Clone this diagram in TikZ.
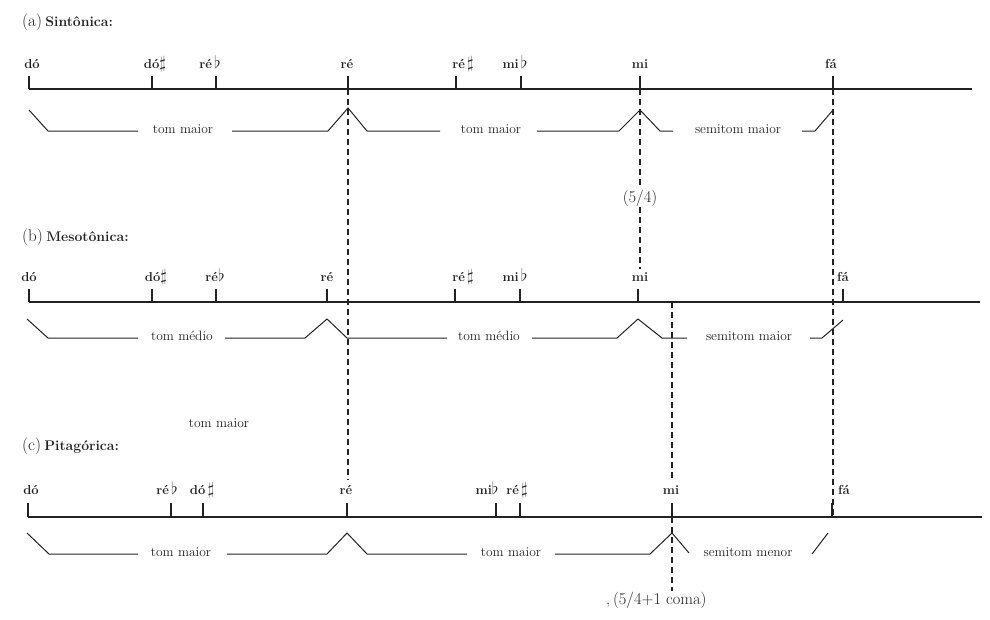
\documentclass[tikz,border=0pt]{standalone}
\usepackage{tikz}
\usetikzlibrary{positioning,calc}
\definecolor{ink}{HTML}{222222}
\newcommand{\sus}{{\fontsize{16}{16}\selectfont$\sharp$}}
\newcommand{\bem}{{\fontsize{16}{16}\selectfont$\flat$}}
\newcommand{\tfont}{\fontsize{17}{19}\selectfont}
\newcommand{\hfont}{\fontsize{14}{16}\selectfont\bfseries}

\begin{document}
\begin{tikzpicture}[x=1pt,y=-1pt,
  axis/.style={draw=ink,line width=1.6pt},
  tick/.style={draw=ink,line width=1.6pt},
  brace/.style={draw=ink,line width=1pt},
  guide/.style={draw=ink,line width=1.1pt,dash pattern=on 6pt off 4pt},
  note/.style={text=ink,font=\fontsize{13}{15}\selectfont\bfseries,inner sep=0pt,anchor=base},
  span/.style={text=ink,font=\fontsize{13.5}{16}\selectfont,inner sep=1pt,anchor=mid},
  ratio/.style={text=ink,font=\fontsize{16.5}{18}\selectfont,inner sep=1pt,anchor=mid},
  title/.style={text=ink,inner sep=0pt,anchor=base west}]
\useasboundingbox (0,0) rectangle (990,619);

% (a) sintonica
\node[title] (ta) at (22,26) {{\tfont(a)} {\hfont Sintônica:}};
\draw[axis] (29,89) -- (972,89);
\foreach \n/\x/\lx/\txt in {do/29/32/dó,dos/152/155/dó\sus,reb/216/210/ré\,\bem,re/348/347/ré,res/456/463/ré\,\sus,mib/521/515/mi\,\bem,mi/640/640/mi,fa/833/831/fá} {
  \coordinate (a\n) at (\x,89);
  \draw[tick] (a\n) -- ++(0,-13);
  \node[note] (la\n) at (\lx,68) {\txt};
}
\draw[brace] (29,110) -- (48,131) -- (138,131);
\draw[brace] (232,131) -- (328,131) -- (348,108) -- (367,131) -- (440,131);
\draw[brace] (537,131) -- (619,131) -- (640,110) -- (660,131) -- (673,131);
\draw[brace] (802,131) -- (815,131) -- (833,110);
\node[span] (sa1) at (183,131) {tom maior};
\node[span] (sa2) at (491,131) {tom maior};
\node[span] (sa3) at (738,131) {semitom maior};
\node[ratio] (q54) at (640,200) {(5/4)};

% (b) mesotonica
\node[title] (tb) at (22,241) {{\tfont(b)} {\hfont Mesotônica:}};
\draw[axis] (29,302) -- (980,302);
\foreach \n/\x/\lx/\txt in {do/29/29/dó,dos/152/156/dó\sus,reb/216/215/ré\bem,re/327/327/ré,res/455/463/ré\,\sus,mib/520/515/mi\,\bem,mi/638/640/mi,fa/843/843/fá} {
  \coordinate (b\n) at (\x,302);
  \draw[tick] (b\n) -- ++(0,-13);
  \node[note] (lb\n) at (\lx,281) {\txt};
}
\draw[brace] (27,319) -- (48,338) -- (138,338);
\draw[brace] (225,338) -- (305,338) -- (327,319) -- (347,338) -- (447,338);
\draw[brace] (532,338) -- (617,338) -- (638,319) -- (662,338) -- (687,338);
\draw[brace] (810,338) -- (822,338) -- (843,320);
\node[span] (sb1) at (182,338) {tom médio};
\node[span] (sb2) at (489,338) {tom médio};
\node[span] (sb3) at (749,338) {semitom maior};

% (c) pitagorica
\node[span] (sx) at (219,425) {tom maior};
\node[title] (tc) at (22,450) {{\tfont(c)} {\hfont Pitagórica:}};
\draw[axis] (28,517) -- (982,517);
\foreach \n/\x/\lx/\txt in {do/28/31/dó,reb/171/167/ré\,\bem,dos/203/202/dó\,\sus,re/347/346/ré,mib/496/487/mi\bem,res/520/517/ré\,\sus,mi/672/671/mi,fa/832/844/fá} {
  \coordinate (c\n) at (\x,517);
  \draw[tick] (c\n) -- ++(0,-14);
  \node[note] (lc\n) at (\lx,494) {\txt};
}
\draw[brace] (27,533) -- (49,554) -- (138,554);
\draw[brace] (227,554) -- (327,554) -- (347,533) -- (367,554) -- (467,554);
\draw[brace] (555,554) -- (650,554) -- (672,533) -- (689,553);
\draw[brace] (812,554) -- (828,533);
\node[span] (sc1) at (181,554) {tom maior};
\node[span] (sc2) at (511,554) {tom maior};
\node[span] (sc3) at (748,554) {semitom menor};
\node[ratio,anchor=west] (coma) at (605,600) {,\,(5/4+1 coma)};

% guide lines
\draw[guide] (are) -- ($(are |- lcre.north)+(0,-5)$);
\draw[guide] (ami) -- (q54.north);
\draw[guide] (q54.south) -- ($(ami |- lbmi.north)+(0,-3)$);
\draw[guide] (afa) -- (afa |- cfa);
\draw[guide] (cmi |- bdo) -- ($(cmi |- lcmi.north)+(0,-5)$);
\draw[guide] (cmi) -- (cmi |- coma.north);
\end{tikzpicture}
\end{document}
